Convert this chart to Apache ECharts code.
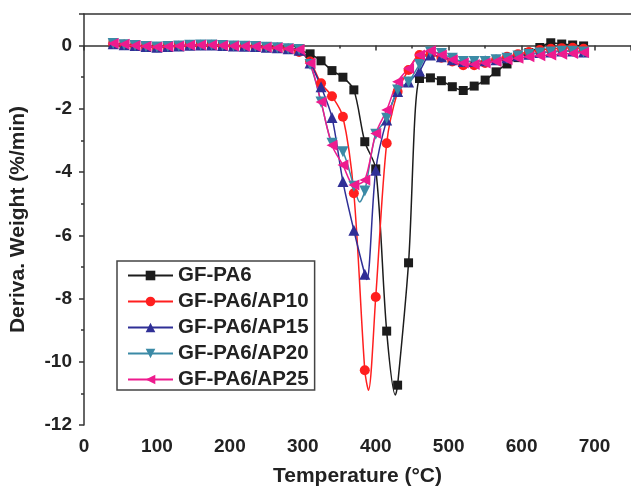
<!DOCTYPE html>
<html>
<head>
<meta charset="utf-8">
<script src="https://cdn.jsdelivr.net/npm/echarts@6/dist/echarts.min.js"></script>
<style>
  html, body { margin: 0; padding: 0; background: #fff; }
  #chart { width: 631px; height: 494px; }
</style>
</head>
<body>
<div id="chart"></div>
<script>
// DTG curves: derivative weight loss vs temperature, sampled every 15 °C
const temperatures = [40,55,70,85,100,115,130,145,160,175,190,205,220,235,250,265,280,295,310,325,
                      340,355,370,385,400,415,430,445,460,475,490,505,520,535,550,565,580,595,610,625,
                      640,655,670,685];

const gfPA6 = [0.07,0.04,0.01,-0.02,-0.04,-0.03,-0.01,0.01,0.03,0.03,0.01,0.0,-0.01,-0.02,-0.04,-0.06,-0.1,-0.15,-0.26,-0.48,
               -0.79,-1.0,-1.4,-3.04,-3.9,-9.03,-10.74,-6.87,-1.04,-1.02,-1.11,-1.3,-1.42,-1.28,-1.09,-0.83,-0.58,-0.38,-0.22,-0.06,
               0.09,0.05,0.02,-0.01];
const gfPA6AP10 = [0.06,0.03,0.0,-0.03,-0.05,-0.03,-0.01,0.01,0.02,0.02,0.0,-0.01,-0.02,-0.03,-0.05,-0.07,-0.1,-0.2,-0.5,-1.19,
                   -1.6,-2.25,-4.67,-10.27,-7.95,-3.09,-1.46,-0.77,-0.3,-0.28,-0.38,-0.5,-0.62,-0.62,-0.55,-0.45,-0.35,-0.27,-0.2,-0.14,
                   -0.1,-0.08,-0.07,-0.1];
const gfPA6AP15 = [0.06,0.03,0.0,-0.03,-0.05,-0.03,-0.01,0.01,0.02,0.02,0.0,-0.01,-0.02,-0.03,-0.05,-0.07,-0.1,-0.15,-0.55,-1.3,
                   -2.27,-4.3,-5.84,-7.23,-3.94,-2.35,-1.45,-1.15,-0.8,-0.3,-0.35,-0.45,-0.5,-0.5,-0.48,-0.45,-0.38,-0.32,-0.27,-0.22,
                   -0.2,-0.17,-0.17,-0.2];
const gfPA6AP20 = [0.07,0.03,0.0,-0.03,-0.04,-0.03,-0.01,0.01,0.02,0.02,0.0,-0.01,-0.02,-0.03,-0.05,-0.07,-0.1,-0.12,-0.6,-1.78,
                   -3.09,-3.36,-4.45,-4.6,-2.8,-2.3,-1.4,-1.15,-0.6,-0.2,-0.25,-0.4,-0.5,-0.5,-0.5,-0.45,-0.4,-0.33,-0.28,-0.23,
                   -0.2,-0.18,-0.18,-0.2];
const gfPA6AP25 = [0.07,0.04,0.0,-0.02,-0.04,-0.03,-0.01,0.01,0.02,0.02,0.0,-0.01,-0.02,-0.03,-0.05,-0.07,-0.1,-0.12,-0.56,-1.78,
                   -3.15,-3.78,-4.41,-4.25,-2.78,-2.04,-1.14,-0.72,-0.3,-0.16,-0.3,-0.45,-0.55,-0.6,-0.55,-0.5,-0.45,-0.4,-0.35,-0.32,
                   -0.3,-0.27,-0.25,-0.22];

// Peak troughs of the continuous curves that fall between marker samples (line only)
const gfPA6Trough = [[427, -11.05]];
const gfPA6AP10Trough = [[390, -10.9]];
const gfPA6AP15Trough = [[388, -7.4]];
const gfPA6AP20Trough = [[378, -4.95]];
const gfPA6AP25Trough = [];

const seriesNames = ['GF-PA6', 'GF-PA6/AP10', 'GF-PA6/AP15', 'GF-PA6/AP20', 'GF-PA6/AP25'];
const xTicks = { min: 0, max: 750, step: 100 };
const yTicks = { min: -12, max: 1, step: 2 };

function buildPoints(values, trough) {
  const pts = temperatures.map((t, i) => [t, values[i]]);
  trough.forEach(([t, v]) => pts.push({ value: [t, v], symbol: 'none' }));
  const key = p => Array.isArray(p) ? p[0] : p.value[0];
  return pts.sort((a, b) => key(a) - key(b));
}

const FONT = 'Liberation Sans, Arial, sans-serif';
const styles = [
  { color: '#1c1c1c', symbol: 'rect', size: 9, rotate: 0 },
  { color: '#ff1f1f', symbol: 'circle', size: 10, rotate: 0 },
  { color: '#2f2f96', symbol: 'triangle', size: 11, rotate: 0 },
  { color: '#3b8aa6', symbol: 'triangle', size: 11, rotate: 180 },
  { color: '#ee1b8e', symbol: 'triangle', size: 11, rotate: 90 }
];
const dataSets = [
  buildPoints(gfPA6, gfPA6Trough),
  buildPoints(gfPA6AP10, gfPA6AP10Trough),
  buildPoints(gfPA6AP15, gfPA6AP15Trough),
  buildPoints(gfPA6AP20, gfPA6AP20Trough),
  buildPoints(gfPA6AP25, gfPA6AP25Trough)
];

const chart = echarts.init(document.getElementById('chart'), null, { renderer: 'canvas' });

const axisLine = { lineStyle: { color: '#333', width: 1.5 } };

chart.setOption({
  animation: false,
  backgroundColor: '#fff',
  grid: { left: 82, top: 14, right: -4, bottom: 69 },
  legend: {
    orient: 'vertical',
    left: 117,
    top: 261,
    itemWidth: 45,
    itemHeight: 12,
    itemGap: 5,
    padding: [4, 6, 0, 10],
    borderColor: '#444',
    borderWidth: 1.5,
    textStyle: { fontFamily: FONT, fontWeight: 'bold', fontSize: 20.5, color: '#222', lineHeight: 20 },
    data: seriesNames
  },
  xAxis: [{
    type: 'value',
    min: xTicks.min,
    max: xTicks.max,
    interval: xTicks.step,
    name: 'Temperature (°C)',
    nameLocation: 'middle',
    nameGap: 41,
    nameTextStyle: { fontFamily: FONT, fontWeight: 'bold', fontSize: 21, color: '#222' },
    axisLine: axisLine,
    axisTick: { show: true, length: 5, lineStyle: { color: '#333', width: 1.5 } },
    minorTick: { show: true, splitNumber: 2, length: 3, lineStyle: { color: '#333', width: 1.5 } },
    axisLabel: { fontFamily: FONT, fontWeight: 'bold', fontSize: 19, color: '#222', margin: 12, showMaxLabel: false },
    splitLine: { show: false }
  }, {
    type: 'value',
    position: 'top',
    min: xTicks.min,
    max: xTicks.max,
    axisLine: axisLine,
    axisTick: { show: false },
    axisLabel: { show: false },
    splitLine: { show: false }
  }],
  yAxis: {
    type: 'value',
    min: yTicks.min,
    max: yTicks.max,
    interval: yTicks.step,
    name: 'Deriva. Weight (%/min)',
    nameLocation: 'middle',
    nameGap: 55,
    nameTextStyle: { fontFamily: FONT, fontWeight: 'bold', fontSize: 21, color: '#222' },
    axisLine: { show: true, lineStyle: { color: '#333', width: 1.5 } },
    axisTick: { show: true, length: 5, lineStyle: { color: '#333', width: 1.5 } },
    minorTick: { show: true, splitNumber: 2, length: 3, lineStyle: { color: '#333', width: 1.5 } },
    axisLabel: { fontFamily: FONT, fontWeight: 'bold', fontSize: 19, color: '#222', margin: 12, showMaxLabel: false },
    splitLine: { show: false }
  },
  series: seriesNames.map((name, i) => ({
    name: name,
    type: 'line',
    xAxisIndex: 0,
    data: dataSets[i],
    smooth: 0.3,
    symbol: styles[i].symbol,
    symbolSize: styles[i].size,
    symbolRotate: styles[i].rotate,
    showAllSymbol: true,
    lineStyle: { color: styles[i].color, width: 1.5 },
    itemStyle: { color: styles[i].color, borderWidth: 0 }
  }))
});
</script>
</body>
</html>
